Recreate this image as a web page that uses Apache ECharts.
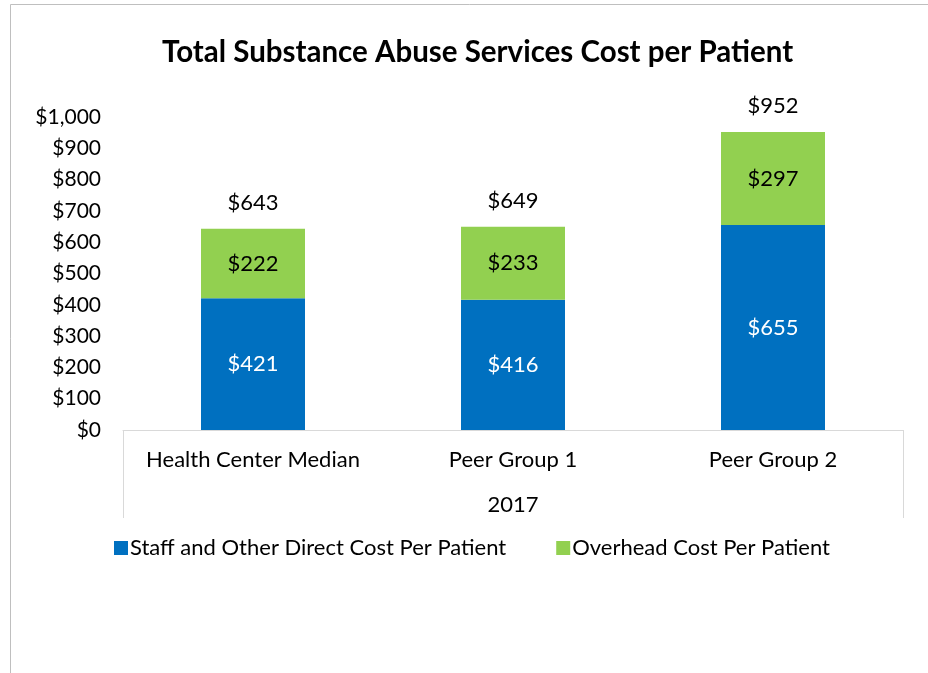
<!DOCTYPE html>
<html>
<head>
<meta charset="utf-8">
<title>Total Substance Abuse Services Cost per Patient</title>
<script src="https://cdn.jsdelivr.net/npm/echarts@6/dist/echarts.min.js"></script>
<style>
  html, body { margin: 0; padding: 0; background: #fff; }
  #chart { width: 928px; height: 673px; }
</style>
</head>
<body>
<div id="chart"></div>
<script>
// data
const categories = ["Health Center Median", "Peer Group 1", "Peer Group 2"];
const yearGroup = ["2017"];
const directCost = [421, 416, 655];
const overheadCost = [222, 233, 297];
const totalCost = [643, 649, 952];
const seriesNames = ["Staff and Other Direct Cost Per Patient", "Overhead Cost Per Patient"];

const FONT = "Lato, 'Open Sans', sans-serif";
const BLUE = "#0070C0";
const GREEN = "#92D050";
const LINE = "#d9d9d9";

function money(v) {
    return "$" + Number(v).toLocaleString("en-US");
}

const chart = echarts.init(document.getElementById("chart"), null, { renderer: "canvas" });

const option = {
    animation: false,
    backgroundColor: "#fff",
    textStyle: { fontFamily: FONT },
    title: {
        text: "Total Substance Abuse Services Cost per Patient",
        left: 157,
        top: 32,
        textStyle: { fontFamily: FONT, fontSize: 29.5, fontWeight: "bold", color: "#000" }
    },
    legend: {
        data: seriesNames,
        left: 109,
        top: 532,
        icon: "rect",
        itemWidth: 14,
        itemHeight: 14,
        itemGap: 50,
        textStyle: { fontFamily: FONT, fontSize: 22, color: "#000", padding: [0, 0, 0, -3] }
    },
    grid: { left: 123, right: 25, top: 117, bottom: 243, containLabel: false },
    xAxis: [
        {
            type: "category",
            data: categories,
            position: "bottom",
            axisLine: { show: true, lineStyle: { color: LINE, width: 1 } },
            axisTick: { show: false },
            axisLabel: { fontFamily: FONT, fontSize: 22, color: "#000", margin: 19, interval: 0 }
        },
        {
            type: "category",
            data: yearGroup,
            position: "bottom",
            axisLine: { show: false },
            axisTick: { show: true, length: 88, lineStyle: { color: LINE, width: 1 } },
            axisLabel: { fontFamily: FONT, fontSize: 22, color: "#000", margin: 64 }
        }
    ],
    yAxis: {
        type: "value",
        min: 0,
        max: 1000,
        interval: 100,
        axisLine: { show: false },
        axisTick: { show: false },
        splitLine: { show: false },
        axisLabel: {
            fontFamily: FONT, fontSize: 21, color: "#000", margin: 22,
            formatter: money
        }
    },
    series: [
        {
            name: seriesNames[0],
            type: "bar",
            stack: "cost",
            barWidth: "40%",
            data: directCost,
            itemStyle: { color: BLUE },
            label: {
                show: true, position: "inside", formatter: p => money(p.value),
                fontFamily: FONT, fontSize: 22, color: "#fff"
            }
        },
        {
            name: seriesNames[1],
            type: "bar",
            stack: "cost",
            barWidth: "40%",
            data: overheadCost,
            itemStyle: { color: GREEN },
            label: {
                show: true, position: "inside", formatter: p => money(p.value),
                fontFamily: FONT, fontSize: 22, color: "#000"
            }
        },
        {
            name: "Total",
            type: "scatter",
            data: totalCost,
            symbolSize: 0,
            silent: true,
            itemStyle: { opacity: 1 },
            label: {
                show: true, position: "top", distance: 15, formatter: p => money(p.value),
                fontFamily: FONT, fontSize: 22, color: "#000"
            }
        }
    ],
    graphic: [
        {
            type: "polyline",
            shape: { points: [[10.5, 673], [10.5, 4.5], [928, 4.5]] },
            style: { stroke: "#bfbfbf", lineWidth: 1, fill: null },
            silent: true
        }
    ]
};

chart.setOption(option);
</script>
</body>
</html>
